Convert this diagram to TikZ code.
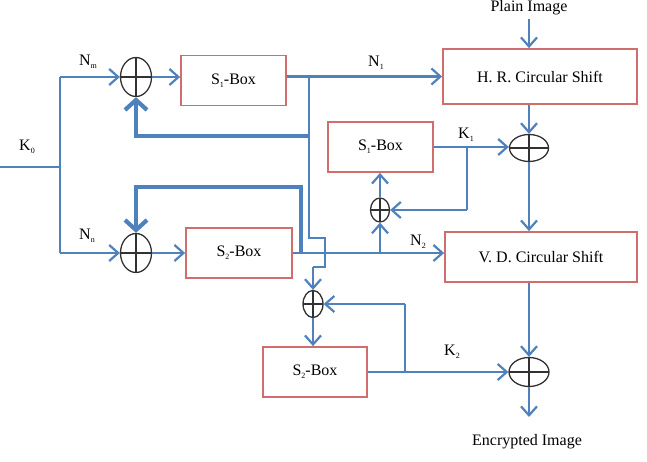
\documentclass[tikz,border=0pt]{standalone}
\usepackage{fontspec}
\setmainfont{Liberation Serif}
\usetikzlibrary{arrows.meta,shapes.geometric}
\definecolor{lineblue}{RGB}{79,129,189}
\definecolor{boxred}{RGB}{208,110,110}
\definecolor{xorgray}{RGB}{50,50,50}
\newcommand{\lsub}[1]{\raisebox{-0.45ex}{\fontsize{8}{8}\selectfont #1}}
\begin{document}
\begin{tikzpicture}[x=1pt,y=-1pt,
  font=\fontsize{16}{19}\selectfont,
  blk/.style={draw=boxred,line width=1.8pt,inner sep=0pt,fill=white},
  xorc/.style={ellipse,draw=xorgray,line width=1.3pt,inner sep=0pt,
    path picture={\draw[xorgray,line width=1.3pt]
      (path picture bounding box.north) -- (path picture bounding box.south)
      (path picture bounding box.west) -- (path picture bounding box.east);}},
  ln/.style={draw=lineblue,line width=2.2pt},
  arr/.style={ln,-{Straight Barb[length=9pt,width=16pt]}},
  thk/.style={draw=lineblue,line width=4.2pt},
  thkarr/.style={thk,-{Straight Barb[length=10pt,width=22pt]}},
  lbl/.style={inner sep=0pt}
]
\useasboundingbox (0,0) rectangle (647,462);

% boxes
\node[blk,minimum width=105pt,minimum height=50pt] (s1a) at (233.5,80.5) {S\lsub{1}-Box};
\node[blk,minimum width=106pt,minimum height=50pt] (s2a) at (239,253) {S\lsub{2}-Box};
\node[blk,minimum width=194pt,minimum height=55pt] (hr) at (540,76.5) {H. R. Circular Shift};
\node[blk,minimum width=105pt,minimum height=50pt] (s1b) at (380.5,147) {S\lsub{1}-Box};
\node[blk,minimum width=192pt,minimum height=50pt] (vd) at (541,257) {V. D. Circular Shift};
\node[blk,minimum width=104pt,minimum height=50pt] (s2b) at (315,372) {S\lsub{2}-Box};

% xor
\node[xorc,minimum width=31pt,minimum height=39pt] (x1) at (136,77) {};
\node[xorc,minimum width=31pt,minimum height=39pt] (x2) at (136,253) {};
\node[xorc,minimum width=39pt,minimum height=27pt] (x3) at (529,148) {};
\node[xorc,minimum width=19pt,minimum height=24pt] (x4) at (380,210) {};
\node[xorc,minimum width=20pt,minimum height=27pt] (x5) at (313,304) {};
\node[xorc,minimum width=40pt,minimum height=29pt] (x6) at (529,372) {};

% texts
\node[lbl] (plain) at (529,8) {Plain Image};
\node[lbl] (enc) at (527,442) {Encrypted Image};
\node[lbl] (k0) at (27,147) {K\lsub{0}};
\node[lbl] (nm) at (88,62) {N\lsub{m}};
\node[lbl] (nn) at (87,236) {N\lsub{n}};
\node[lbl] (n1) at (376,63) {N\lsub{1}};
\node[lbl] (n2) at (418,242) {N\lsub{2}};
\node[lbl] (k1) at (466,135) {K\lsub{1}};
\node[lbl] (k2) at (452,352) {K\lsub{2}};

% coordinates
\coordinate (k0in) at (0,167);
\coordinate (ksplit) at (60,167);
\coordinate (ktop) at (60,77);
\coordinate (kbot) at (60,253);
\coordinate (j1) at (309,77);
\coordinate (fb1) at (309,136);
\coordinate (h1) at (309,238);
\coordinate (h2) at (325,238);
\coordinate (h3) at (325,267);
\coordinate (h4) at (313,267);
\coordinate (fb2) at (301,253);
\coordinate (fb2t) at (301,187);
\coordinate (j4) at (380,253);
\coordinate (j3) at (467,147);
\coordinate (j3b) at (467,210);
\coordinate (j6) at (405,372);
\coordinate (j6t) at (405,304);
\coordinate (plainend) at (529,19);
\coordinate (encend) at (529,417);

% K0 distribution
\draw[ln] (k0in) -- (ksplit);
\draw[ln] (ktop) -- (kbot);
\draw[arr] (ktop) -- (x1.west);
\draw[arr] (kbot) -- (x2.west);

% xor -> S boxes
\draw[arr] (x1.east) -- (x1.east -| s1a.west);
\draw[arr] (x2.east) -- (x2.east -| s2a.west);

% S1 top output
\draw[arr] (s1a.east |- hr.west) -- (hr.west);
\draw[ln] (j1) -- (h1) -- (h2) -- (h3) -- (h4);
\draw[arr] (h4) -- (x5.north);

% thick feedbacks
\draw[thkarr] (fb1) -- (fb1 -| x1.south) -- (x1.south);
\draw[thkarr] (fb2) -- (fb2t) -- (fb2t -| x2.north) -- (x2.north);

% S2 left output
\draw[arr] (s2a.east |- x2.east) -- (x2.east -| vd.west);
\draw[arr] (j4) -- (x4.south);
\draw[arr] (x4.north) -- (x4.north |- s1b.south);

% S1 middle output
\draw[arr] (s1b.east) -- (s1b.east -| x3.west);
\draw[ln] (j3) -- (j3b);
\draw[arr] (j3b) -- (x4.east);

% right column
\draw[arr] (plainend) -- (plainend |- hr.north);
\draw[arr] (x3.north |- hr.south) -- (x3.north);
\draw[arr] (x3.south) -- (x3.south |- vd.north);
\draw[arr] (x6.north |- vd.south) -- (x6.north);
\draw[arr] (x6.south) -- (encend);

% bottom
\draw[arr] (x5.south) -- (x5.south |- s2b.north);
\draw[arr] (s2b.east) -- (s2b.east -| x6.west);
\draw[ln] (j6) -- (j6t);
\draw[arr] (j6t) -- (x5.east);
\end{tikzpicture}
\end{document}
